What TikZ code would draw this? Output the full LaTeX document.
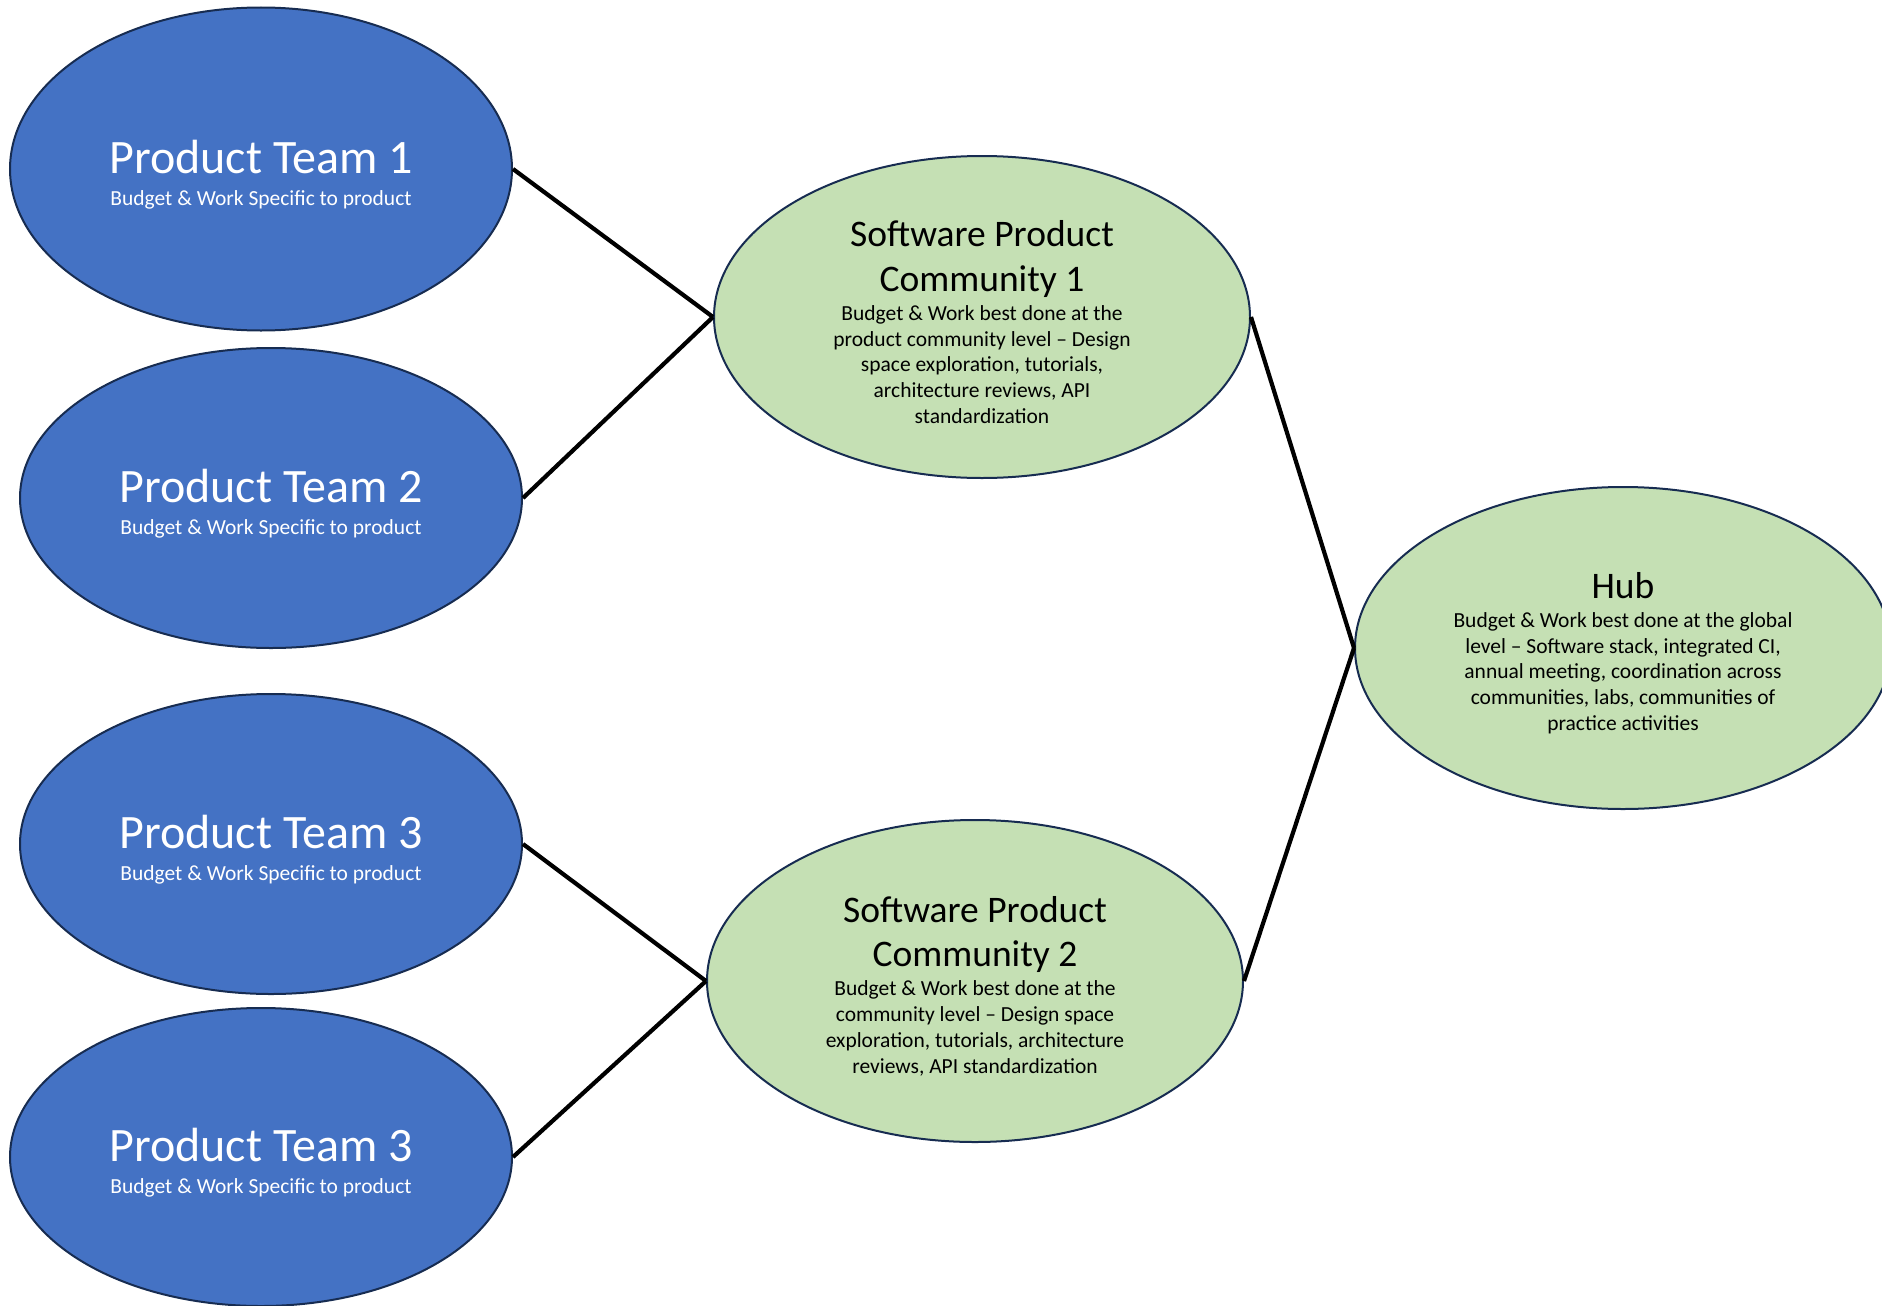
\documentclass[tikz,border=0pt]{standalone}
\usepackage{fontspec}
\setmainfont{Carlito}
\usetikzlibrary{shapes.geometric}
\definecolor{ptblue}{HTML}{4472C4}
\definecolor{spgreen}{HTML}{C5E0B4}
\definecolor{rimcol}{HTML}{172C51}
\newcommand{\tln}[1]{\mbox{#1}\par}
\newcommand{\pttitle}[1]{{\fontsize{48}{56}\selectfont\tln{#1}}}
\newcommand{\ptsub}[1]{{\fontsize{21.5}{32}\selectfont\tln{#1}}\vspace{-11pt}}
\newcommand{\cmtitle}[1]{{\fontsize{37.5}{44.5}\selectfont #1}\vspace{3.5pt}}
\newcommand{\cmbody}[1]{{\fontsize{21.5}{25.7}\selectfont #1}\vspace{-10pt}}
\begin{document}
\begin{tikzpicture}[x=1pt,y=-1pt,
  team/.style={ellipse, draw=rimcol, line width=2pt, fill=ptblue, text=white,
    minimum width=502pt, inner sep=0pt, text width=330pt, align=flush center},
  comm/.style={ellipse, draw=rimcol, line width=2pt, fill=spgreen, text=black,
    minimum width=536pt, minimum height=322pt, inner sep=0pt, text width=350pt, align=flush center},
  link/.style={line width=4.2pt, black}]
\useasboundingbox (0,0) rectangle (1882,1306);

\node[team, minimum height=323pt] (pt1) at (261,169) {\pttitle{Product Team 1}\ptsub{Budget \& Work Specific to product}};
\node[team, minimum height=300pt] (pt2) at (271,498) {\pttitle{Product Team 2}\ptsub{Budget \& Work Specific to product}};
\node[team, minimum height=300pt] (pt3) at (271,844) {\pttitle{Product Team 3}\ptsub{Budget \& Work Specific to product}};
\node[team, minimum height=298pt] (pt4) at (261,1157) {\pttitle{Product Team 3}\ptsub{Budget \& Work Specific to product}};

\node[comm] (spc1) at (982,317) {\cmtitle{\tln{Software Product}\tln{Community 1}}\cmbody{\tln{Budget \& Work best done at the}\tln{product community level – Design}\tln{space exploration, tutorials,}\tln{architecture reviews, API}\tln{standardization}}};
\node[comm] (spc2) at (975,981) {\cmtitle{\tln{Software Product}\tln{Community 2}}\cmbody{\tln{Budget \& Work best done at the}\tln{community level – Design space}\tln{exploration, tutorials, architecture}\tln{reviews, API standardization}}};
\node[comm] (hub) at (1623,648) {\cmtitle{\tln{Hub}}\cmbody{\tln{Budget \& Work best done at the global}\tln{level – Software stack, integrated CI,}\tln{annual meeting, coordination across}\tln{communities, labs, communities of}\tln{practice activities}}};

\draw[link] (pt1.east) -- (spc1.west);
\draw[link] (pt2.east) -- (spc1.west);
\draw[link] (pt3.east) -- (spc2.west);
\draw[link] (pt4.east) -- (spc2.west);
\draw[link] (spc1.east) -- (hub.west);
\draw[link] (spc2.east) -- (hub.west);
\end{tikzpicture}
\end{document}
